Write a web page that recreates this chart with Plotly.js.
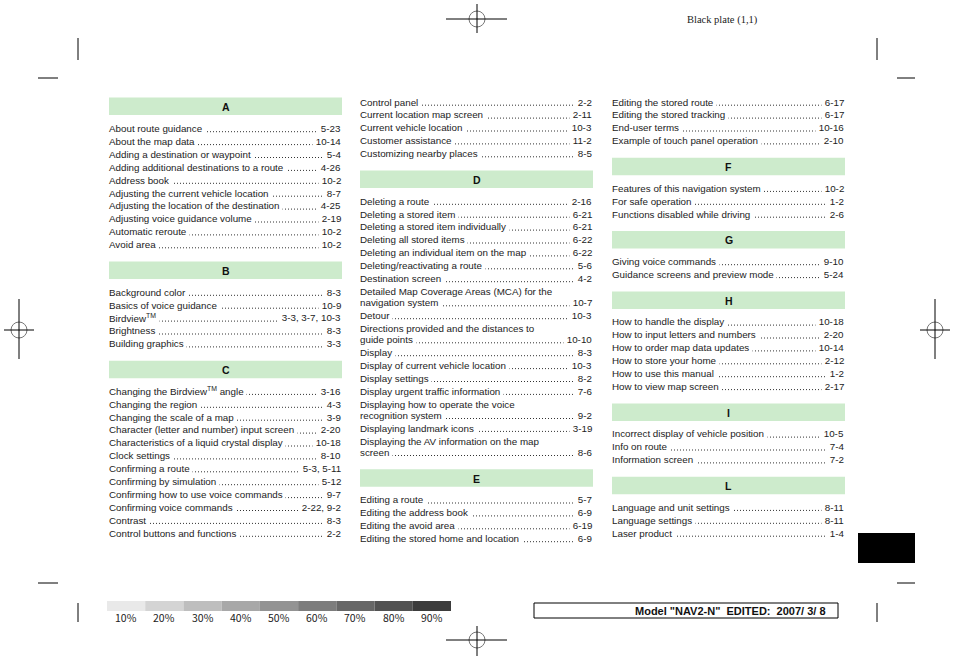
<!DOCTYPE html>
<html><head><meta charset="utf-8">
<script src="https://cdn.plot.ly/plotly-3.0.1.min.js"></script>
<style>html,body{margin:0;padding:0;background:#fff}#chart{width:954px;height:660px}</style>
</head><body><div id="chart"></div>
<script>
// ---- index data (text | page) ----
const entriesA = [
  ["About route guidance", "5-23"],
  ["About the map data", "10-14"],
  ["Adding a destination or waypoint", "5-4"],
  ["Adding additional destinations to a route", "4-26"],
  ["Address book", "10-2"],
  ["Adjusting the current vehicle location", "8-7"],
  ["Adjusting the location of the destination", "4-25"],
  ["Adjusting voice guidance volume", "2-19"],
  ["Automatic reroute", "10-2"],
  ["Avoid area", "10-2"]
];
const entriesB = [
  ["Background color", "8-3"],
  ["Basics of voice guidance", "10-9"],
  ["Birdview<sup>TM</sup>", "3-3, 3-7, 10-3"],
  ["Brightness", "8-3"],
  ["Building graphics", "3-3"]
];
const entriesC = [
  ["Changing the Birdview<sup>TM</sup> angle", "3-16"],
  ["Changing the region", "4-3"],
  ["Changing the scale of a map", "3-9"],
  ["Character (letter and number) input screen", "2-20"],
  ["Characteristics of a liquid crystal display", "10-18"],
  ["Clock settings", "8-10"],
  ["Confirming a route", "5-3, 5-11"],
  ["Confirming by simulation", "5-12"],
  ["Confirming how to use voice commands", "9-7"],
  ["Confirming voice commands", "2-22, 9-2"],
  ["Contrast", "8-3"],
  ["Control buttons and functions", "2-2"],
  ["Control panel", "2-2"],
  ["Current location map screen", "2-11"],
  ["Current vehicle location", "10-3"],
  ["Customer assistance", "11-2"],
  ["Customizing nearby places", "8-5"]
];
const entriesD = [
  ["Deleting a route", "2-16"],
  ["Deleting a stored item", "6-21"],
  ["Deleting a stored item individually", "6-21"],
  ["Deleting all stored items", "6-22"],
  ["Deleting an individual item on the map", "6-22"],
  ["Deleting/reactivating a route", "5-6"],
  ["Destination screen", "4-2"],
  ["Detailed Map Coverage Areas (MCA) for the|navigation system", "10-7"],
  ["Detour", "10-3"],
  ["Directions provided and the distances to|guide points", "10-10"],
  ["Display", "8-3"],
  ["Display of current vehicle location", "10-3"],
  ["Display settings", "8-2"],
  ["Display urgent traffic information", "7-6"],
  ["Displaying how to operate the voice|recognition system", "9-2"],
  ["Displaying landmark icons", "3-19"],
  ["Displaying the AV information on the map|screen", "8-6"]
];
const entriesE = [
  ["Editing a route", "5-7"],
  ["Editing the address book", "6-9"],
  ["Editing the avoid area", "6-19"],
  ["Editing the stored home and location", "6-9"],
  ["Editing the stored route", "6-17"],
  ["Editing the stored tracking", "6-17"],
  ["End-user terms", "10-16"],
  ["Example of touch panel operation", "2-10"]
];
const entriesF = [
  ["Features of this navigation system", "10-2"],
  ["For safe operation", "1-2"],
  ["Functions disabled while driving", "2-6"]
];
const entriesG = [
  ["Giving voice commands", "9-10"],
  ["Guidance screens and preview mode", "5-24"]
];
const entriesH = [
  ["How to handle the display", "10-18"],
  ["How to input letters and numbers", "2-20"],
  ["How to order map data updates", "10-14"],
  ["How to store your home", "2-12"],
  ["How to use this manual", "1-2"],
  ["How to view map screen", "2-17"]
];
const entriesI = [
  ["Incorrect display of vehicle position", "10-5"],
  ["Info on route", "7-4"],
  ["Information screen", "7-2"]
];
const entriesL = [
  ["Language and unit settings", "8-11"],
  ["Language settings", "8-11"],
  ["Laser product", "1-4"]
];
const tintLabels = ["10%","20%","30%","40%","50%","60%","70%","80%","90%"];
const tintValues = [0.1,0.2,0.3,0.4,0.5,0.6,0.7,0.8,0.9];
const plateText = "Black plate (1,1)";
const modelText = "Model \"NAV2-N\"\u00a0\u00a0EDITED:\u00a0\u00a02007/\u00a03/\u00a08";

// ---- layout of the columns ----
const columns = [
  {x0:109, x1:342, start:97.5, blocks:[
    {h:"A", list:entriesA, from:0, to:10},
    {h:"B", list:entriesB, from:0, to:5},
    {h:"C", list:entriesC, from:0, to:12}]},
  {x0:360, x1:593, start:102, blocks:[
    {list:entriesC, from:12, to:17},
    {h:"D", list:entriesD, from:0, to:17},
    {h:"E", list:entriesE, from:0, to:4}]},
  {x0:612, x1:845, start:102, blocks:[
    {list:entriesE, from:4, to:8},
    {h:"F", list:entriesF, from:0, to:3},
    {h:"G", list:entriesG, from:0, to:2},
    {h:"H", list:entriesH, from:0, to:6},
    {h:"I", list:entriesI, from:0, to:3},
    {h:"L", list:entriesL, from:0, to:3}]}
];

const STEP = 12.9, WRAP = 11.2, HDR_OFF = 17, HDR_H = 17.5, GAP = 47.5;
const txtFont = {family:"Liberation Sans, Arial, sans-serif", size:9.8, color:"#222"};
const shapes = [], annotations = [], lateAnn = [];

columns.forEach(col => {
  let last = null;
  const lx = col.x0 - 1;
  col.blocks.forEach(b => {
    let y;
    if (b.h) {
      const top = last === null ? col.start : last + HDR_OFF;
      shapes.push({type:"rect", xref:"x", yref:"y", x0:col.x0, x1:col.x1, y0:top, y1:top+HDR_H,
        fillcolor:"#cdebcc", line:{width:0}, layer:"below"});
      lateAnn.push({x:(col.x0+col.x1)/2, y:top+HDR_H/2+0.5, text:b.h, showarrow:false,
        xanchor:"center", yanchor:"middle",
        font:{family:"Liberation Sans, Arial, sans-serif", size:10.5, color:"#111", weight:"bold"}});
      y = last === null ? top + 31 : last + GAP;
    } else {
      y = col.start;
    }
    b.list.slice(b.from, b.to).forEach(([label, page]) => {
      const lines = label.split("|");
      const group = [];
      lines.forEach((ln, i) => {
        const isLast = i === lines.length - 1;
        if (isLast) {
          shapes.push({type:"line", xref:"x", yref:"y", x0:col.x0+2, x1:col.x1-2, y0:y+3.2, y1:y+3.2,
            line:{color:"#333", width:1, dash:"1px,2px"}, layer:"below"});
          group.push({x:col.x1, y:y, text:"\u00a0" + page, showarrow:false, xanchor:"right", yanchor:"middle",
            bgcolor:"#fff", borderpad:0, font:txtFont});
          group.push({x:lx, y:y, text:ln + "\u00a0", showarrow:false, xanchor:"left", yanchor:"middle",
            bgcolor:"#fff", borderpad:0, font:txtFont});
        } else {
          group.push({x:lx, y:y, text:ln, showarrow:false, xanchor:"left", yanchor:"middle",
            borderpad:0, font:txtFont});
        }
        last = y;
        y += isLast ? STEP : WRAP;
      });
      // draw lower lines first so upper lines keep their descenders
      group.reverse().forEach(a => annotations.push(a));
    });
  });
});
lateAnn.forEach(a => annotations.push(a));

// ---- registration marks ----
function regMark(cx, cy, hx0, hx1, vy0, vy1) {
  shapes.push({type:"circle", xref:"x", yref:"y", x0:cx-8, x1:cx+8, y0:cy-8, y1:cy+8,
    line:{color:"#777", width:1}});
  shapes.push({type:"line", xref:"x", yref:"y", x0:hx0, x1:hx1, y0:cy, y1:cy, line:{color:"#000", width:1}});
  shapes.push({type:"line", xref:"x", yref:"y", x0:cx, x1:cx, y0:vy0, y1:vy1, line:{color:"#000", width:1}});
}
regMark(477, 19, 446, 507, 4, 33);
regMark(19, 330, 4, 34, 299, 359);
regMark(935, 330, 920, 950, 299, 359);
regMark(477, 640, 446, 507, 626, 656);

// ---- crop marks ----
[[78,38,78,60],[38,78,58,78],[877,38,877,60],[897,78,915,78],
 [38,583,58,583],[78,603,78,622],[897,583,915,583],[877,603,877,622]].forEach(c => {
  shapes.push({type:"line", xref:"x", yref:"y", x0:c[0], y0:c[1], x1:c[2], y1:c[3], line:{color:"#000", width:1}});
});

// ---- black thumb tab ----
shapes.push({type:"rect", xref:"x", yref:"y", x0:858, x1:915, y0:533, y1:563, fillcolor:"#000", line:{width:0}});

// ---- tint scale ----
const segW = (451 - 107) / tintValues.length;
tintValues.forEach((p, i) => {
  const g = Math.round(255 * (1 - p * 0.85));
  shapes.push({type:"rect", xref:"x", yref:"y", x0:107 + i*segW, x1:107 + (i+1)*segW, y0:601, y1:611,
    fillcolor:`rgb(${g},${g},${g})`, line:{width:0}});
  annotations.push({x:107 + (i+0.5)*segW, y:617.5, text:tintLabels[i], showarrow:false,
    xanchor:"center", yanchor:"middle",
    font:{family:"Noto Sans CJK JP, DejaVu Sans, sans-serif", size:10.5, color:"#222"}});
});

// ---- model box ----
shapes.push({type:"rect", xref:"x", yref:"y", x0:534, x1:838, y0:603, y1:618, line:{color:"#000", width:1}, fillcolor:"rgba(0,0,0,0)"});
annotations.push({x:828, y:610.5, text:modelText, showarrow:false, xanchor:"right", yanchor:"middle",
  font:{family:"Liberation Sans, Arial, sans-serif", size:11, color:"#111", weight:"bold"}});

// ---- plate label ----
annotations.push({x:685, y:20, text:plateText, showarrow:false, xanchor:"left", yanchor:"middle",
  font:{family:"Liberation Serif, Times New Roman, serif", size:10.5, color:"#222"}});

const layout = {
  width:954, height:660, margin:{l:0, r:0, t:0, b:0},
  paper_bgcolor:"#fff", plot_bgcolor:"#fff", showlegend:false,
  xaxis:{range:[0,954], visible:false, fixedrange:true},
  yaxis:{range:[660,0], visible:false, fixedrange:true},
  shapes:shapes, annotations:annotations
};
Plotly.newPlot("chart", [], layout, {staticPlot:true, displayModeBar:false});
</script>
</body></html>
